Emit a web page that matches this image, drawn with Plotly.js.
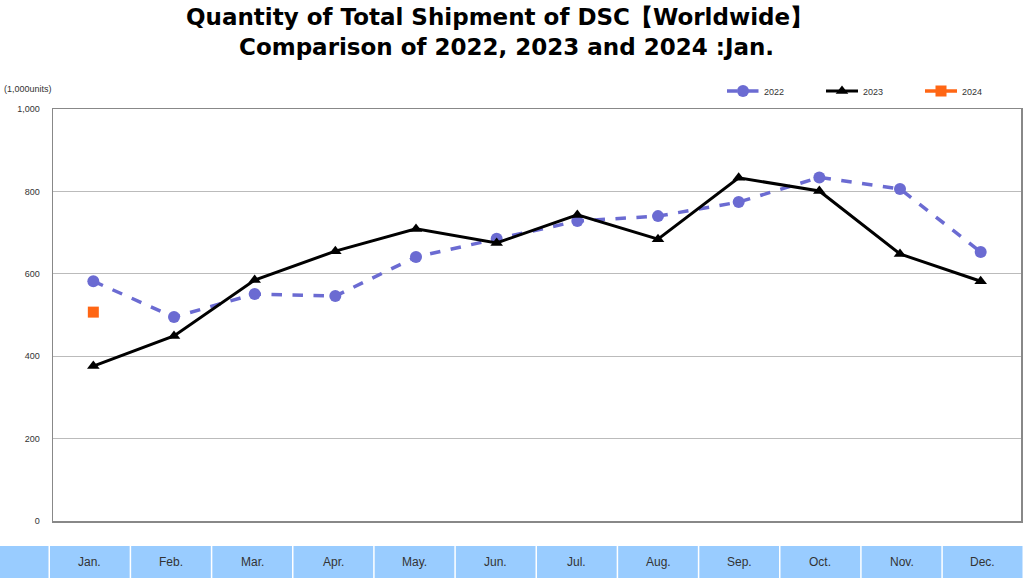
<!DOCTYPE html>
<html>
<head>
<meta charset="utf-8">
<script src="https://cdn.plot.ly/plotly-3.0.1.min.js"></script>
<style>html,body{margin:0;padding:0;background:#fff;}#chart{width:1024px;height:580px;}</style>
</head>
<body>
<div id="chart"></div>
<script>
const months = ["Jan.","Feb.","Mar.","Apr.","May.","Jun.","Jul.","Aug.","Sep.","Oct.","Nov.","Dec."];
const y2022 = [582, 495, 551, 546, 641, 685, 728, 740, 774, 834, 806, 653];
const y2023 = [376, 449, 585, 655, 709, 675, 743, 684, 833, 801, 648, 582];
const y2024 = [507];
const yTicks = [0, 200, 400, 600, 800, 1000];
const yTickText = ["0", "200", "400", "600", "800", "1,000"];
const titleLines = ["Quantity of Total Shipment of DSC【Worldwide】", "Comparison of 2022, 2023 and 2024 :Jan."];

const W = 1024, L = 53, R = 1021, T = 109, B = 521;
const px = v => (v - L) / (R - L);
const yPaper = p => (B - p) / (B - T);

const traces = [
  {x: months, y: y2022, name: "2022", type: "scatter", mode: "lines+markers",
   line: {color: "#6B6BD2", width: 3.5, dash: "dash"},
   marker: {symbol: "circle", size: 12, color: "#6B6BD2"}},
  {x: months, y: y2023, name: "2023", type: "scatter", mode: "lines+markers",
   line: {color: "#000000", width: 3},
   marker: {symbol: "triangle-up", size: 11, color: "#000000"}},
  {x: months.slice(0, y2024.length), y: y2024, name: "2024", type: "scatter", mode: "lines+markers",
   line: {color: "#FF6614", width: 3.5},
   marker: {symbol: "square", size: 11, color: "#FF6614"}}
];

const shapes = [];
const annotations = [];
shapes.push({type: "rect", xref: "paper", yref: "paper", x0: px(0), x1: px(48.5), y0: yPaper(578), y1: yPaper(546),
  fillcolor: "#99CCFF", line: {width: 0}, layer: "below"});
const cw = (1024 - 50) / 12;
months.forEach((m, i) => {
  const a = 50 + cw * i, b = a + cw - 1.5;
  shapes.push({type: "rect", xref: "paper", yref: "paper", x0: px(a), x1: px(b), y0: yPaper(578), y1: yPaper(546),
    fillcolor: "#99CCFF", line: {width: 0}, layer: "below"});
  annotations.push({xref: "paper", yref: "paper", x: px((a + b) / 2), y: yPaper(562), text: m, showarrow: false,
    xanchor: "center", yanchor: "middle", font: {family: "Liberation Sans, Arial, sans-serif", size: 12, color: "#333"}});
});
annotations.push({xref: "paper", yref: "paper", x: px(2), y: yPaper(89), text: "(1,000units)", showarrow: false,
  xanchor: "left", yanchor: "middle", font: {family: "Liberation Sans, Arial, sans-serif", size: 9, color: "#333"}});
annotations.push({xref: "paper", yref: "paper", x: px(499), y: yPaper(17), text: "<b>" + titleLines[0] + "</b>", showarrow: false,
  xanchor: "center", yanchor: "middle", font: {family: "DejaVu Sans, Verdana, sans-serif", size: 23, color: "#000"}});
annotations.push({xref: "paper", yref: "paper", x: px(506), y: yPaper(47), text: "<b>" + titleLines[1] + "</b>", showarrow: false,
  xanchor: "center", yanchor: "middle", font: {family: "DejaVu Sans, Verdana, sans-serif", size: 23, color: "#000"}});

const layout = {
  width: 1024, height: 580,
  margin: {l: L, r: W - R, t: T, b: 580 - B},
  paper_bgcolor: "#fff", plot_bgcolor: "#fff",
  showlegend: true,
  legend: {orientation: "h", x: px(722), xanchor: "left", y: yPaper(91), yanchor: "middle",
    font: {family: "Liberation Sans, Arial, sans-serif", size: 9, color: "#333"},
    bgcolor: "rgba(0,0,0,0)", itemwidth: 32, entrywidth: 52, entrywidthmode: "pixels", tracegroupgap: 0},
  xaxis: {type: "category", showgrid: false, showticklabels: false, ticks: "",
    showline: true, linecolor: "#888", linewidth: 1.5, mirror: true, zeroline: false,
    range: [-0.5, 11.5], fixedrange: true},
  yaxis: {range: [0, 1000], tickvals: yTicks, ticktext: yTickText,
    showgrid: true, gridcolor: "#bbbbbb", gridwidth: 1,
    showline: true, linecolor: "#888", linewidth: 1.5, mirror: true, zeroline: false,
    ticks: "", ticklabelstandoff: 10,
    tickfont: {family: "Liberation Sans, Arial, sans-serif", size: 9, color: "#333"}},
  shapes: shapes,
  annotations: annotations
};

Plotly.newPlot("chart", traces, layout, {displayModeBar: false, staticPlot: true});
</script>
</body>
</html>
